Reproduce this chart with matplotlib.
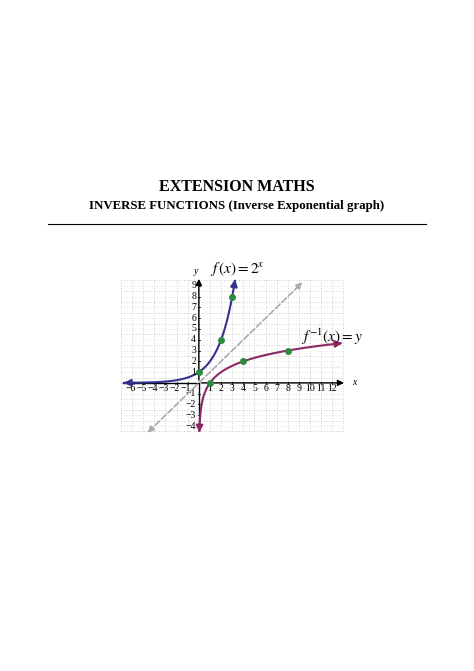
import numpy as np
import matplotlib.pyplot as plt

xticks = [-6,-5,-4,-3,-2,-1,1,2,3,4,5,6,7,8,9,10,11,12]
yticks = [-4,-3,-2,-1,1,2,3,4,5,6,7,8,9]
pts_f = [(0,1),(2,4),(3,8)]
pts_inv = [(1,0),(4,2),(8,3)]

plt.rcParams['font.family'] = ['Liberation Serif', 'DejaVu Serif']
fig = plt.figure(figsize=(4.74,6.71), dpi=100)
fig.text(0.5, 1-187/671, 'EXTENSION MATHS', ha='center', va='center', fontsize=11.5, fontweight='bold')
fig.text(0.5, 1-206/671, 'INVERSE FUNCTIONS (Inverse Exponential graph)', ha='center', va='center', fontsize=9.3, fontweight='bold')
fig.add_artist(plt.Line2D([48/474, 426/474], [1-224/671]*2, color='black', lw=0.8))

L, R, T, B = 121, 349, 275, 439
ax = fig.add_axes([L/474, 1-B/671, (R-L)/474, (B-T)/671])
ax.set_xlim(-7, 13.5); ax.set_ylim(-5.2, 10)
ax.axis('off')
for gx in np.arange(-7, 13.01, 1):
    ax.plot([gx,gx],[-4.5,9.5], color='#c0c0c0', lw=0.6, ls=(0,(1,2)), zorder=0)
for gy in np.arange(-4.5, 9.51, 1):
    ax.plot([-7,13],[gy,gy], color='#c0c0c0', lw=0.6, ls=(0,(1,2)), zorder=0)
for gy in np.arange(-4, 9.51, 1):
    ax.plot([-7,13],[gy,gy], color='#d0d0d0', lw=0.5, ls=(0,(1,3)), zorder=0)

ap = dict(arrowstyle='-|>', mutation_scale=9, lw=1.0, color='black')
ax.annotate('', xy=(13.3,0), xytext=(0,0), arrowprops=ap)
ax.plot([-6.8,0],[0,0], color='black', lw=1.0)
ax.annotate('', xy=(0,9.9), xytext=(0,0), arrowprops=ap)
ax.plot([0,0],[-4.4,0], color='black', lw=1.0)
ax.text(13.8, 0, 'x', fontsize=7, style='italic', va='center')
ax.text(-0.1, 10.35, 'y', fontsize=7, style='italic', ha='right', va='center')
for t in xticks:
    ax.plot([t,t],[-0.12,0.12], color='black', lw=0.6)
    ax.text(t - (0.15 if t < 0 else 0), -0.5, ('−' if t<0 else '')+str(abs(t)), fontsize=7, ha='center', va='center')
for t in yticks:
    ax.plot([-0.12,0.12],[t,t], color='black', lw=0.6)
    ax.text(-0.25, t, ('−' if t<0 else '')+str(abs(t)), fontsize=7, ha='right', va='center')

ax.annotate('', xy=(9.5,9.5), xytext=(-4.8,-4.8), arrowprops=dict(arrowstyle='<|-|>', mutation_scale=9, lw=1.2, color='#aaaaaa', ls='--'))

blue = '#33338f'; purple = '#8b2763'
x = np.linspace(-6.5, 3.2, 300)
ax.plot(x, 2**x, color=blue, lw=1.5)
ax.annotate('', xy=(3.3, 2**3.3), xytext=(3.2, 2**3.2), arrowprops=dict(arrowstyle='-|>', mutation_scale=10, color=blue, lw=1.5))
ax.annotate('', xy=(-7, 2**-7), xytext=(-6.5, 2**-6.5), arrowprops=dict(arrowstyle='-|>', mutation_scale=10, color=blue, lw=1.5))
xi = np.linspace(2**-4.2, 12.5, 400)
ax.plot(xi, np.log2(xi), color=purple, lw=1.5)
ax.annotate('', xy=(12.9, np.log2(12.9)), xytext=(12.5, np.log2(12.5)), arrowprops=dict(arrowstyle='-|>', mutation_scale=10, color=purple, lw=1.5))
ax.annotate('', xy=(2**-4.6, -4.6), xytext=(2**-4.2, -4.2), arrowprops=dict(arrowstyle='-|>', mutation_scale=10, color=purple, lw=1.5))
for px, py in pts_f + pts_inv:
    ax.plot(px, py, 'o', color='#2e8b3e', ms=4, zorder=5)

ax.text(1.0, 10.6, r'$f\,\left(x\right) = 2^{x}$', fontsize=11, va='center', math_fontfamily='stix')
ax.text(9.2, 4.3, r'$f^{-1}\left(x\right) = y$', fontsize=11, va='center', math_fontfamily='stix')
fig.savefig('out.png', dpi=100)
